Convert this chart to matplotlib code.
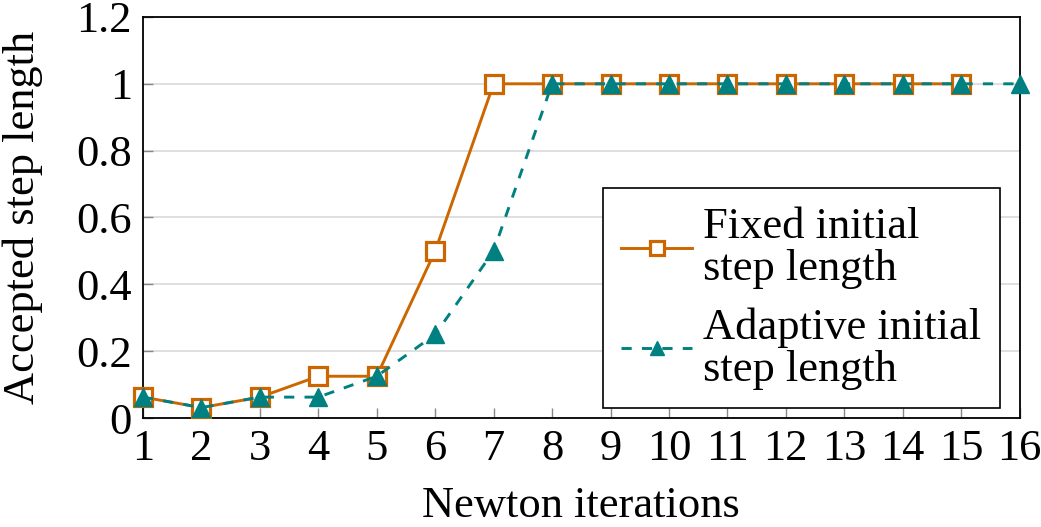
import matplotlib
matplotlib.use("Agg")
import matplotlib.pyplot as plt

# Data
iters_fixed = list(range(1, 16))
step_fixed = [0.0625, 0.03125, 0.0625, 0.125, 0.125, 0.5, 1, 1, 1, 1, 1, 1, 1, 1, 1]
iters_adaptive = list(range(1, 17))
step_adaptive = [0.0625, 0.03125, 0.0625, 0.0625, 0.125, 0.25, 0.5, 1, 1, 1, 1, 1, 1, 1, 1, 1]
y_ticks = [0, 0.2, 0.4, 0.6, 0.8, 1, 1.2]

orange = "#CC6600"
teal = "#008080"

plt.rcParams["font.family"] = "serif"
plt.rcParams["font.serif"] = ["Liberation Serif", "Times New Roman", "DejaVu Serif"]

fig = plt.figure(figsize=(10.41, 5.27), dpi=100)
ax = fig.add_axes([0.1374, 0.2068, 0.842, 0.761])

ax.plot(iters_fixed, step_fixed, color=orange, lw=2.1, marker="s",
        markersize=12.5, markerfacecolor="white", markeredgecolor=orange,
        markeredgewidth=2.3, label="Fixed initial\nstep length", zorder=3, clip_on=False)
ax.plot(iters_adaptive, step_adaptive, color=teal, lw=2.1, ls=(0, (3.5, 3.5)),
        marker="^", markersize=13.5, markerfacecolor=teal, markeredgecolor=teal,
        label="Adaptive initial\nstep length", zorder=4, clip_on=False)

ax.set_xlim(1, 16)
ax.set_ylim(0, 1.2)
ax.set_xticks(iters_adaptive)
ax.set_yticks(y_ticks)
ax.set_yticklabels(["%g" % v for v in y_ticks])
ax.yaxis.grid(True, color="#d9d9d9", lw=1.2)
ax.set_axisbelow(True)
ax.tick_params(direction="in", length=7, width=1, color="#888888",
               labelsize=32, pad=8)
for s in ax.spines.values():
    s.set_linewidth(1.3)

ax.set_xlabel("Newton iterations", fontsize=32, labelpad=12)
ax.set_ylabel("Accepted step length", fontsize=32, labelpad=24)

leg = ax.legend(loc="lower right", bbox_to_anchor=(0.978, 0.024), fontsize=32,
                frameon=True, fancybox=False, framealpha=1, edgecolor="black",
                handlelength=1.6, handletextpad=0.25, labelspacing=0.4,
                borderpad=0.42, borderaxespad=0, markerscale=0.75)
leg.get_frame().set_linewidth(1.2)
for t in leg.get_texts():
    t.set_linespacing(1.07)

fig.savefig("out.png", dpi=100)
